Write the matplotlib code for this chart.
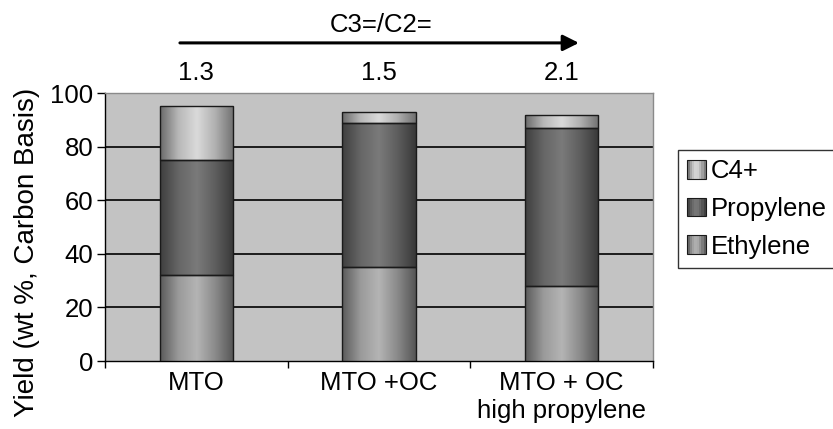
import matplotlib
matplotlib.use("Agg")
import matplotlib.pyplot as plt
import numpy as np
from matplotlib.colors import LinearSegmentedColormap
from matplotlib.legend_handler import HandlerBase
from matplotlib.patches import Rectangle, FancyArrowPatch

plt.rcParams['font.family'] = ['Liberation Sans', 'DejaVu Sans']

categories = ["MTO", "MTO +OC", "MTO + OC\nhigh propylene"]
ratios = ["1.3", "1.5", "2.1"]
ethylene = [32, 35, 28]
propylene = [43, 54, 59]
c4plus = [20, 4, 5]
series_names = ["Ethylene", "Propylene", "C4+"]
yticks = [0, 20, 40, 60, 80, 100]

grad_colors = {
    "Ethylene": ["#5a5a5a", "#9a9a9a", "#b4b4b4", "#8a8a8a", "#555555"],
    "Propylene": ["#3e3e3e", "#666666", "#7a7a7a", "#5e5e5e", "#383838"],
    "C4+": ["#6a6a6a", "#b8b8b8", "#dadada", "#b0b0b0", "#707070"],
}
cmaps = {k: LinearSegmentedColormap.from_list(k, v) for k, v in grad_colors.items()}

FS = 18.5

fig = plt.figure(figsize=(8.33, 4.29), dpi=100)
ax = fig.add_axes([0.126, 0.1585, 0.658, 0.6245])
ax.set_facecolor("#c3c3c3")

x = np.arange(len(categories))
width = 0.4
data = [ethylene, propylene, c4plus]
bottom = np.zeros(len(categories))
grad = np.linspace(0, 1, 256).reshape(1, -1)
handles = []
for name, vals in zip(series_names, data):
    bars = ax.bar(x, vals, width, bottom=bottom, facecolor="none",
                  edgecolor="#1a1a1a", linewidth=1.0, zorder=4, label=name)
    for p in bars:
        x0, y0 = p.get_x(), p.get_y()
        w, h = p.get_width(), p.get_height()
        im = ax.imshow(grad, extent=[x0, x0 + w, y0, y0 + h], aspect="auto",
                       cmap=cmaps[name], origin="lower", zorder=3,
                       interpolation="bilinear")
        im.set_clip_path(p)
    handles.append(Rectangle((0, 0), 1, 1, label=name))
    bottom += np.array(vals)


class GradHandler(HandlerBase):
    def create_artists(self, legend, orig_handle, xdescent, ydescent,
                       width, height, fontsize, trans):
        name = orig_handle.get_label()
        cm = cmaps[name]
        side = min(width, height)
        x0 = -xdescent
        y0 = -ydescent + (height - side) / 2
        n = 8
        arts = []
        for i in range(n):
            arts.append(Rectangle((x0 + i * side / n, y0), side / n, side,
                                  facecolor=cm((i + 0.5) / n), edgecolor="none",
                                  transform=trans))
        arts.append(Rectangle((x0, y0), side, side, facecolor="none",
                              edgecolor="#1a1a1a", linewidth=0.8, transform=trans))
        return arts


# gridlines
ax.hlines(yticks[1:-1], -0.5, 2.5, colors="black", linewidth=1.2, zorder=1)

ax.set_xlim(-0.5, 2.5)
ax.set_ylim(0, 100)
ax.set_yticks(yticks)
ax.set_xticks(x)
ax.set_xticklabels(categories, fontsize=FS, linespacing=1.2)
ax.set_xticks([-0.5, 0.5, 1.5, 2.5], minor=True)
ax.tick_params(axis="x", which="major", length=0, pad=7)
ax.tick_params(axis="x", which="minor", length=5, width=1, color="black", direction="out")
ax.tick_params(axis="y", labelsize=FS, length=5.5, width=1, direction="out", pad=3)

for s in ["left", "bottom"]:
    ax.spines[s].set_color("black")
    ax.spines[s].set_linewidth(1.0)
for s in ["top", "right"]:
    ax.spines[s].set_color("#8a8a8a")
    ax.spines[s].set_linewidth(1.0)

ax.set_ylabel("Yield (wt %, Carbon Basis)", fontsize=20)
ax.yaxis.set_label_coords(-0.119, 0.407)

leg = ax.legend(handles[::-1], series_names[::-1], loc="upper left",
                bbox_to_anchor=(1.046, 0.786), borderaxespad=0, fontsize=FS,
                frameon=True, fancybox=False, edgecolor="black",
                handlelength=0.75, handleheight=0.75, handletextpad=0.15,
                labelspacing=0.53, borderpad=0.35,
                handler_map={Rectangle: GradHandler()})
leg.get_frame().set_linewidth(1.0)

# ratio labels
for xi, r in zip(x, ratios):
    ax.text(xi, 1.075, r, transform=ax.get_xaxis_transform(),
            ha="center", va="center", fontsize=FS)

# arrow
fig.patches.append(FancyArrowPatch(
    (0.216, 0.9), (0.695, 0.9), transform=fig.transFigure,
    arrowstyle="-|>,head_length=0.8,head_width=0.4", color="black",
    linewidth=2.2, mutation_scale=12, shrinkA=0, shrinkB=0))
fig.text(0.457, 0.942, "C3=/C2=", ha="center", va="center", fontsize=FS)

fig.savefig("out.png", dpi=100, facecolor="white")
